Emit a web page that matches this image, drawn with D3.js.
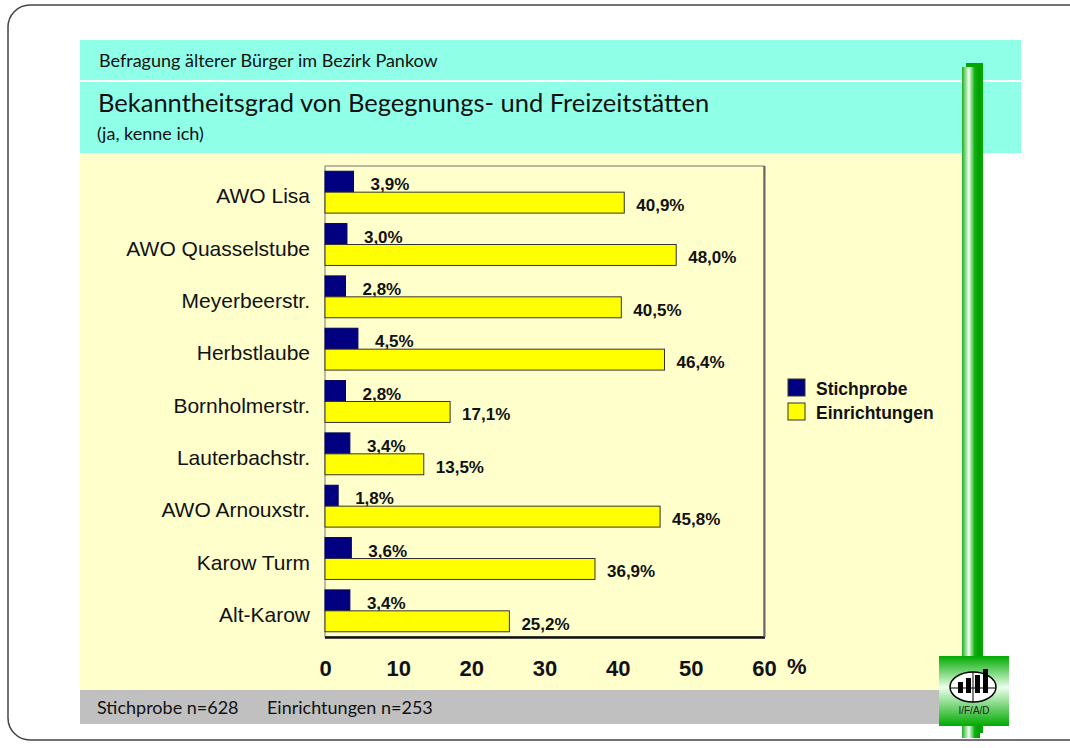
<!DOCTYPE html>
<html>
<head>
<meta charset="utf-8">
<script src="https://cdn.jsdelivr.net/npm/d3@7"></script>
<style>
  body { margin: 0; background: #fff; }
  .head { font-family: Lato, "Open Sans", sans-serif; fill: #111; }
  .cat { font-family: "Liberation Sans", Arial, sans-serif; font-size: 21px; fill: #111; }
  .val { font-family: "Liberation Sans", Arial, sans-serif; font-size: 17px; font-weight: bold; fill: #111; }
  .tick text { font-family: "Liberation Sans", Arial, sans-serif; font-size: 22px; font-weight: bold; fill: #111; }
</style>
</head>
<body>
<script>
// chart values
var categories = ["AWO Lisa", "AWO Quasselstube", "Meyerbeerstr.", "Herbstlaube", "Bornholmerstr.",
                  "Lauterbachstr.", "AWO Arnouxstr.", "Karow Turm", "Alt-Karow"];
var stichprobe = [3.9, 3.0, 2.8, 4.5, 2.8, 3.4, 1.8, 3.6, 3.4];
var einrichtungen = [40.9, 48.0, 40.5, 46.4, 17.1, 13.5, 45.8, 36.9, 25.2];
var seriesNames = ["Stichprobe", "Einrichtungen"];
var seriesColors = ["#000080", "#ffff00"];
var xTicks = [0, 10, 20, 30, 40, 50, 60];

var width = 1070, height = 748;

var svg = d3.select("body").append("svg")
    .attr("width", width)
    .attr("height", height);

var defs = svg.append("defs");
var gBar = defs.append("linearGradient").attr("id", "greenBar")
    .attr("x1", "0").attr("x2", "1").attr("y1", "0").attr("y2", "0");
gBar.append("stop").attr("offset", "0").attr("stop-color", "#1fae1f");
gBar.append("stop").attr("offset", "0.38").attr("stop-color", "#f2fff2");
gBar.append("stop").attr("offset", "0.7").attr("stop-color", "#10b010");
gBar.append("stop").attr("offset", "1").attr("stop-color", "#009a00");

var gLogo = defs.append("linearGradient").attr("id", "greenLogo")
    .attr("x1", "0").attr("x2", "0").attr("y1", "0").attr("y2", "1");
gLogo.append("stop").attr("offset", "0").attr("stop-color", "#00aa00");
gLogo.append("stop").attr("offset", "0.45").attr("stop-color", "#ecffec");
gLogo.append("stop").attr("offset", "1").attr("stop-color", "#00aa00");

// outer frame
svg.append("rect")
    .attr("x", 8).attr("y", 5)
    .attr("width", 1090).attr("height", 735)
    .attr("rx", 22).attr("ry", 22)
    .attr("fill", "#fff")
    .attr("stroke", "#444")
    .attr("stroke-width", 1.5);

// background bands
svg.append("rect").attr("x", 80).attr("y", 40).attr("width", 941).attr("height", 40).attr("fill", "#8fffe8");
svg.append("rect").attr("x", 80).attr("y", 82).attr("width", 941).attr("height", 71).attr("fill", "#8fffe8");
svg.append("rect").attr("x", 80).attr("y", 153).attr("width", 882).attr("height", 537).attr("fill", "#ffffcc");
svg.append("rect").attr("x", 80).attr("y", 690).attr("width", 880).attr("height", 34).attr("fill", "#c0c0c0");

svg.append("text").attr("class", "head")
    .attr("x", 99).attr("y", 67)
    .style("font-size", "18px")
    .text("Befragung älterer Bürger im Bezirk Pankow");
svg.append("text").attr("class", "head")
    .attr("x", 98).attr("y", 112)
    .style("font-size", "25.5px")
    .text("Bekanntheitsgrad von Begegnungs- und Freizeitstätten");
svg.append("text").attr("class", "head")
    .attr("x", 97).attr("y", 140)
    .style("font-size", "18px")
    .text("(ja, kenne ich)");
svg.append("text").attr("class", "head")
    .attr("x", 97).attr("y", 714)
    .style("font-size", "18px")
    .text("Stichprobe n=628");
svg.append("text").attr("class", "head")
    .attr("x", 267).attr("y", 714)
    .style("font-size", "18px")
    .text("Einrichtungen n=253");

// plot area
var plot = {left: 325, right: 764, top: 166, bottom: 637};

var xScale = d3.scaleLinear()
    .domain([0, 60])
    .range([plot.left, plot.right]);

var yScale = d3.scaleBand()
    .domain(categories)
    .range([plot.top, plot.bottom])
    .paddingInner(0.2)
    .paddingOuter(0.1);

svg.append("rect")
    .attr("x", plot.left).attr("y", plot.top)
    .attr("width", plot.right - plot.left).attr("height", plot.bottom - plot.top)
    .attr("fill", "#ffffcc")
    .attr("stroke", "#777")
    .attr("stroke-width", 1);
svg.append("line")
    .attr("x1", plot.left).attr("x2", plot.right + 1)
    .attr("y1", plot.bottom + 0.5).attr("y2", plot.bottom + 0.5)
    .attr("stroke", "#111").attr("stroke-width", 2.5);
svg.append("line")
    .attr("x1", plot.right + 0.5).attr("x2", plot.right + 0.5)
    .attr("y1", plot.top).attr("y2", plot.bottom)
    .attr("stroke", "#666").attr("stroke-width", 2);

var fmt = function(v) { return d3.format(".1f")(v).replace(".", ",") + "%"; };
var half = yScale.bandwidth() / 2;
var seriesData = [stichprobe, einrichtungen];

seriesData.forEach(function(values, s) {
  var g = svg.append("g").attr("class", "series-" + s);
  g.selectAll("rect")
    .data(categories)
    .enter().append("rect")
      .attr("x", xScale(0))
      .attr("y", function(d) { return yScale(d) + s * half; })
      .attr("width", function(d, i) { return xScale(values[i]) - xScale(0); })
      .attr("height", half)
      .attr("fill", seriesColors[s])
      .attr("stroke", s == 0 ? "#000060" : "#333")
      .attr("stroke-width", 1);

  g.selectAll("text")
    .data(categories)
    .enter().append("text")
      .attr("class", "val")
      .attr("x", function(d, i) { return xScale(values[i]) + (s == 0 ? 17 : 12); })
      .attr("y", function(d) { return yScale(d) + (s + 1) * half - 2; })
      .text(function(d, i) { return fmt(values[i]); });
});

// category labels
svg.append("g").selectAll("text")
    .data(categories)
    .enter().append("text")
      .attr("class", "cat")
      .attr("text-anchor", "end")
      .attr("x", 310)
      .attr("y", function(d) { return yScale(d) + yScale.bandwidth() / 2 + 11; })
      .text(function(d) { return d; });

// x axis
var xAxis = d3.axisBottom(xScale).tickValues(xTicks).tickSize(0).tickPadding(0);
var axisG = svg.append("g")
    .attr("transform", "translate(0," + plot.bottom + ")")
    .call(xAxis);
axisG.select(".domain").remove();
axisG.selectAll("text").attr("dy", null).attr("y", 39);
svg.append("text")
    .attr("x", 787).attr("y", 674)
    .style("font-family", "'Liberation Sans', Arial, sans-serif")
    .style("font-size", "22px").style("font-weight", "bold")
    .attr("fill", "#111")
    .text("%");

// legend
var legend = svg.append("g").attr("class", "legend");
seriesNames.forEach(function(name, i) {
  legend.append("rect")
      .attr("x", 788).attr("y", 379 + i * 24)
      .attr("width", 17).attr("height", 17)
      .attr("fill", seriesColors[i])
      .attr("stroke", "#333").attr("stroke-width", 1);
  legend.append("text")
      .attr("class", "val")
      .style("font-size", "17.5px")
      .attr("x", 816).attr("y", 395 + i * 24)
      .text(name);
});

// green pole and logo
svg.append("rect").attr("x", 966).attr("y", 63).attr("width", 17).attr("height", 670).attr("fill", "#00a800");
svg.append("rect").attr("x", 962).attr("y", 67).attr("width", 18).attr("height", 671).attr("fill", "url(#greenBar)");

var logo = svg.append("g").attr("class", "logo");
logo.append("rect").attr("x", 939).attr("y", 656).attr("width", 70).attr("height", 70).attr("fill", "url(#greenLogo)");
logo.append("ellipse").attr("cx", 973).attr("cy", 687).attr("rx", 23).attr("ry", 15)
    .attr("fill", "#fff").attr("stroke", "#000").attr("stroke-width", 1.5);
[[958, 682], [966, 678], [975, 675], [983, 669]].forEach(function(b) {
  logo.append("rect").attr("x", b[0]).attr("y", b[1]).attr("width", 5).attr("height", 693 - b[1]).attr("fill", "#000");
});
logo.append("line").attr("x1", 951).attr("x2", 995).attr("y1", 688).attr("y2", 688).attr("stroke", "#000").attr("stroke-width", 1.2);
logo.append("line").attr("x1", 973).attr("x2", 973).attr("y1", 672).attr("y2", 702).attr("stroke", "#000").attr("stroke-width", 1);
logo.append("text").attr("x", 974).attr("y", 714)
    .attr("text-anchor", "middle")
    .style("font-family", "'Liberation Sans', Arial, sans-serif")
    .style("font-size", "10px")
    .attr("fill", "#222")
    .text("I/F/A/D");
</script>
</body>
</html>
